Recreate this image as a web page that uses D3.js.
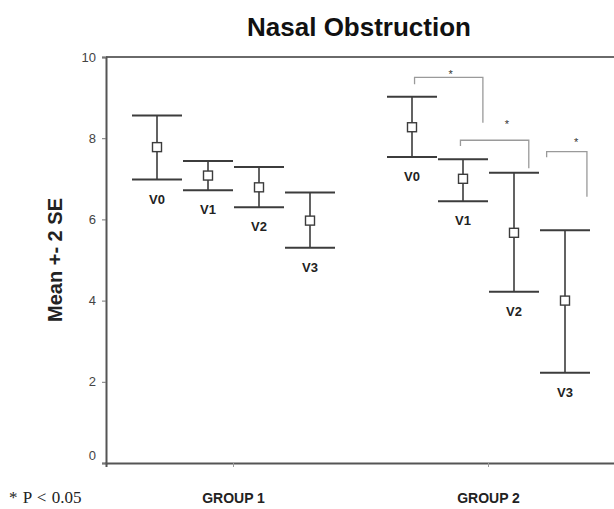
<!DOCTYPE html>
<html>
<head>
<meta charset="utf-8">
<script src="https://cdn.jsdelivr.net/npm/d3@7"></script>
<style>
  body { margin: 0; background: #fff; }
  svg { display: block; font-family: Arial, "Liberation Sans", sans-serif; }
</style>
</head>
<body>
<svg id="chart"></svg>
<script>
// values
const groups = ['GROUP 1', 'GROUP 2'];
const visits = ['V0', 'V1', 'V2', 'V3'];
const meanVals = [[7.78, 7.08, 6.79, 5.97], [8.27, 7.00, 5.67, 4.00]];
const upperVals = [[8.56, 7.44, 7.29, 6.66], [9.02, 7.48, 7.15, 5.73]];
const lowerVals = [[6.98, 6.72, 6.30, 5.30], [7.54, 6.45, 4.22, 2.22]];
const yTicks = [0, 2, 4, 6, 8, 10];

// significance brackets (group 2), in visit-index and value units
const bracketFrom = [0.05, 0.95, 2.64];
const bracketTo = [1.39, 2.29, 3.43];
const bracketTop = [9.50, 7.95, 7.67];
const bracketLeftEnd = [9.33, 7.81, 7.53];
const bracketRightEnd = [8.38, 7.26, 6.56];
const starIdx = [0.76, 1.86, 3.22];
const starVal = [9.61, 8.37, 7.94];

const width = 614, height = 509;
const margin = {top: 57, right: -2, bottom: 46, left: 106};
const lineClr = '#3c3c3c';

const svg = d3.select('#chart').attr('width', width).attr('height', height);

const x = d3.scaleBand()
                .domain(groups)
                .range([margin.left, width - margin.right]);
const inner = d3.scalePoint()
                .domain(visits)
                .range([0, x.bandwidth()])
                .padding(1);
const y = d3.scaleLinear()
                .domain([0, 10])
                .range([height - margin.bottom, margin.top]);

// x position for fractional visit index inside a group
const xAt = (g, i) => x(g) + inner(visits[0]) + i * inner.step();

// title
svg.append('text')
    .attr('x', 359).attr('y', 36)
    .attr('text-anchor', 'middle')
    .style('font-size', '26px').style('font-weight', 'bold').attr('fill', '#111')
    .text('Nasal Obstruction');

// top frame line
svg.append('line')
    .attr('x1', margin.left).attr('x2', width)
    .attr('y1', y(10)).attr('y2', y(10))
    .attr('stroke', '#6a6a6a').attr('stroke-width', 2);

// y axis
const yAxis = svg.append('g')
    .attr('transform', `translate(${margin.left},0)`)
    .call(d3.axisLeft(y).tickValues(yTicks).tickSize(4).tickPadding(6));
yAxis.select('.domain').attr('stroke', '#555').attr('stroke-width', 2);
yAxis.selectAll('.tick line').attr('stroke', '#777');
yAxis.selectAll('.tick text')
    .style('font-size', '13px').attr('fill', '#444')
    .attr('dy', d => d === 0 ? '-0.3em' : '0.32em');

// x axis
const xAxis = svg.append('g')
    .attr('transform', `translate(0,${y(0)})`)
    .call(d3.axisBottom(x).tickSize(4).tickPadding(26));
xAxis.select('.domain').attr('stroke', '#555').attr('stroke-width', 2);
xAxis.selectAll('.tick line').attr('stroke', '#999');
xAxis.selectAll('.tick text')
    .style('font-size', '14px').style('font-weight', 'bold').attr('fill', '#222');

// y axis title
svg.append('text')
    .attr('transform', `translate(62,${(y(0) + y(10)) / 2}) rotate(-90)`)
    .attr('text-anchor', 'middle')
    .style('font-size', '20px').style('font-weight', 'bold').attr('fill', '#222')
    .text('Mean +- 2 SE');

// error bars
const points = [];
groups.forEach((g, gi) => {
    visits.forEach((v, vi) => {
        points.push({g, v, mean: meanVals[gi][vi], lo: lowerVals[gi][vi], hi: upperVals[gi][vi]});
    });
});

const capHalf = 25;
const bars = svg.append('g').selectAll('.bar')
    .data(points)
    .enter()
        .append('g')
        .attr('transform', d => `translate(${x(d.g) + inner(d.v)},0)`);

bars.append('line')
    .attr('y1', d => y(d.hi)).attr('y2', d => y(d.lo))
    .attr('stroke', lineClr).attr('stroke-width', 1.6);
bars.append('line')
    .attr('x1', -capHalf).attr('x2', capHalf)
    .attr('y1', d => y(d.hi)).attr('y2', d => y(d.hi))
    .attr('stroke', lineClr).attr('stroke-width', 2);
bars.append('line')
    .attr('x1', -capHalf).attr('x2', capHalf)
    .attr('y1', d => y(d.lo)).attr('y2', d => y(d.lo))
    .attr('stroke', lineClr).attr('stroke-width', 2);
bars.append('rect')
    .attr('x', -4.5).attr('width', 9)
    .attr('y', d => y(d.mean) - 4.5).attr('height', 9)
    .attr('fill', '#fff').attr('stroke', lineClr).attr('stroke-width', 1.4);
bars.append('text')
    .attr('y', d => y(d.lo) + 24)
    .attr('text-anchor', 'middle')
    .style('font-size', '13px').style('font-weight', 'bold').attr('fill', '#222')
    .text(d => d.v);

// significance brackets
const g2 = groups[1];
const brackets = bracketFrom.map((f, i) => ({
    x1: xAt(g2, f), x2: xAt(g2, bracketTo[i]),
    top: y(bracketTop[i]), l: y(bracketLeftEnd[i]), r: y(bracketRightEnd[i]),
    sx: xAt(g2, starIdx[i]), sy: y(starVal[i])
}));

svg.append('g').selectAll('path')
    .data(brackets)
    .enter()
        .append('path')
        .attr('d', d => `M${d.x1},${d.l}V${d.top}H${d.x2}V${d.r}`)
        .attr('fill', 'none').attr('stroke', '#9a9a9a').attr('stroke-width', 1.3);

svg.append('g').selectAll('text')
    .data(brackets)
    .enter()
        .append('text')
        .attr('x', d => d.sx).attr('y', d => d.sy + 5)
        .attr('text-anchor', 'middle')
        .style('font-size', '11px').attr('fill', '#333')
        .text('*');

// footnote
svg.append('text')
    .attr('x', 9).attr('y', 503)
    .style('font-family', '"Liberation Serif", "DejaVu Serif", serif')
    .style('font-size', '17px').style('word-spacing', '1px').attr('fill', '#222')
    .text('* P < 0.05');
</script>
</body>
</html>
